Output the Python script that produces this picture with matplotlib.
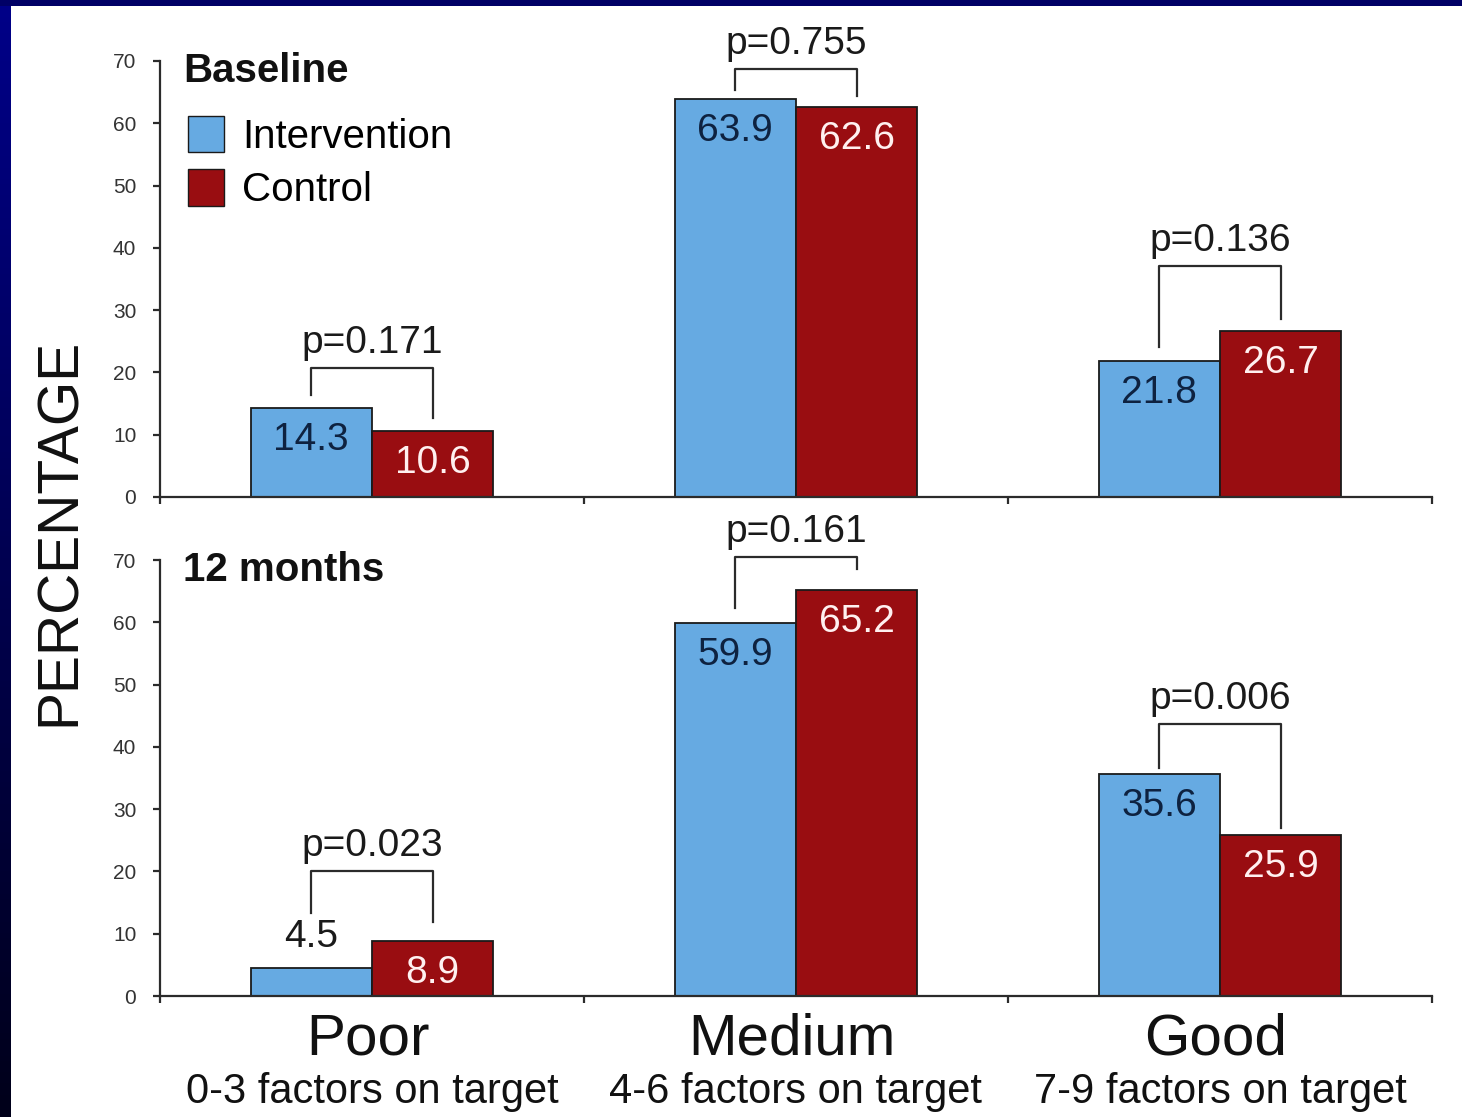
import numpy as np
import matplotlib.pyplot as plt
from matplotlib.patches import Patch, Rectangle

plt.rcParams['font.family'] = ['Liberation Sans', 'DejaVu Sans']

# data
categories = ['Poor', 'Medium', 'Good']
subtitles = ['0-3 factors on target', '4-6 factors on target', '7-9 factors on target']
intervention_base = [14.3, 63.9, 21.8]
control_base = [10.6, 62.6, 26.7]
intervention_12m = [4.5, 59.9, 35.6]
control_12m = [8.9, 65.2, 25.9]
p_base = ['0.171', '0.755', '0.136']
p_12m = ['0.023', '0.161', '0.006']

# bracket layout (top, left leg end, right leg end) in data units
brackets_base = [(20.7, 16.4, 12.7), (68.7, 65.3, 64.4), (37.1, 24.1, 28.6)]
brackets_12m = [(20.1, 13.3, 11.9), (70.5, 62.3, 68.5), (43.7, 36.6, 27.0)]

blue = '#66aae2'
red = '#990d11'
ink = '#2b2b2b'
W = 0.286

fig = plt.figure(figsize=(14.62, 11.17), dpi=100)
fig.patch.set_facecolor('white')

# navy slide frame
fig.patches.append(Rectangle((0, 1 - 6 / 1117), 1, 6 / 1117, transform=fig.transFigure,
                             facecolor='#000066', edgecolor='none', zorder=0))
side = fig.add_axes([0, 0, 11 / 1462, 1])
side.imshow(np.linspace(1, 0, 200).reshape(-1, 1), cmap=plt.cm.colors.LinearSegmentedColormap.from_list(
    'navy', ['#00001a', '#000088']), aspect='auto', extent=(0, 1, 0, 1))
side.axis('off')


def draw_panel(ax, ints, ctls, pvals, brackets, title, legend=False):
    x = np.arange(len(categories))
    ax.bar(x - W / 2, ints, W, color=blue, edgecolor='#1a1a1a', linewidth=1.3, zorder=2)
    ax.bar(x + W / 2, ctls, W, color=red, edgecolor='#1a1a1a', linewidth=1.3, zorder=2)

    for i in range(len(categories)):
        if ints[i] < 8:
            ax.annotate(f'{ints[i]}', (x[i] - W / 2, ints[i]), xytext=(0, 22), textcoords='offset points',
                        ha='center', va='center', fontsize=28, color='#1a1a1a')
        else:
            ax.annotate(f'{ints[i]}', (x[i] - W / 2, ints[i]), xytext=(0, -23), textcoords='offset points',
                        ha='center', va='center', fontsize=28, color='#0e2240')
        ax.annotate(f'{ctls[i]}', (x[i] + W / 2, ctls[i]), xytext=(0, -23), textcoords='offset points',
                    ha='center', va='center', fontsize=28, color='#fff0f0')

        top, l_end, r_end = brackets[i]
        ax.plot([x[i] - W / 2, x[i] - W / 2, x[i] + W / 2, x[i] + W / 2],
                [l_end, top, top, r_end], color=ink, lw=1.6, clip_on=False, zorder=3)
        ax.annotate('p=' + pvals[i], (x[i], top), xytext=(0, 11), textcoords='offset points',
                    ha='center', va='baseline', fontsize=28, color='#1a1a1a', annotation_clip=False)

    ax.set_xlim(-0.5, 2.5)
    ax.set_ylim(0, 70)
    ax.set_yticks(range(0, 71, 10))
    ax.set_xticks([-0.5, 0.5, 1.5, 2.5])
    ax.set_xticklabels([])
    for s in ['top', 'right']:
        ax.spines[s].set_visible(False)
    for s in ['left', 'bottom']:
        ax.spines[s].set_color(ink)
        ax.spines[s].set_linewidth(1.6)
    ax.tick_params(axis='both', direction='out', length=5, width=1.6, color=ink)
    ax.tick_params(axis='y', labelsize=15, labelcolor='#333333', pad=12)

    ax.text(0.018, 0.977, title, transform=ax.transAxes, fontsize=29, fontweight='bold',
            ha='left', va='center', color='#111111')

    if legend:
        handles = [Patch(facecolor=blue, edgecolor='#1a1a1a', label='Intervention'),
                   Patch(facecolor=red, edgecolor='#1a1a1a', label='Control')]
        ax.legend(handles=handles, loc='upper left', bbox_to_anchor=(0.022, 0.873), frameon=False,
                  fontsize=29, handlelength=0.9, handleheight=1.0, handletextpad=0.45,
                  labelspacing=0.33, borderpad=0, borderaxespad=0)


ax1 = fig.add_axes([0.1094, 0.5551, 0.870, 0.3903])
ax2 = fig.add_axes([0.1094, 0.1083, 0.870, 0.3903])

draw_panel(ax1, intervention_base, control_base, p_base, brackets_base, 'Baseline', legend=True)
draw_panel(ax2, intervention_12m, control_12m, p_12m, brackets_12m, '12 months')

# category names under the lower panel
for i in range(len(categories)):
    ax2.text(i - 0.01, -0.10, categories[i], transform=ax2.get_xaxis_transform(), ha='center', va='center',
             fontsize=42, color='#111111')
    ax2.text(i, -0.22, subtitles[i], transform=ax2.get_xaxis_transform(), ha='center', va='center',
             fontsize=30, color='#111111')

fig.text(0.041, 0.524, 'PERCENTAGE', rotation=90, ha='center', va='center', fontsize=41, color='#111111')

fig.savefig('out.png', dpi=100)
